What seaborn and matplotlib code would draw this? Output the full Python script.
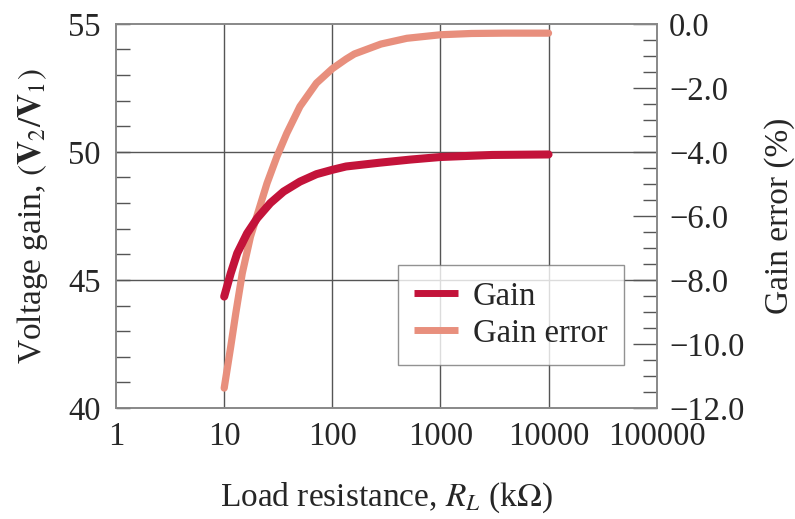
import matplotlib
matplotlib.use('Agg')
import matplotlib.pyplot as plt
import matplotlib.ticker as mticker
import numpy as np
import pandas as pd
import seaborn as sns

# Load resistance (kOhm) and values
rl_gain = [10, 11.5, 13.2, 16.3, 20.2, 26.7, 35.4, 50.2, 71.4, 100, 134, 277, 527,
           1000, 3000, 10000]
gain = [44.35, 45.26, 46.04, 46.82, 47.41, 48.0, 48.45, 48.84, 49.13, 49.3, 49.43,
        49.58, 49.7, 49.8, 49.88, 49.9]

rl_err = [10, 11.5, 12.8, 14.7, 17.5, 20.9, 24.9, 30.7, 37.9, 50.2, 71.4, 100, 134,
          160, 282, 490, 1000, 1940, 3900, 10000]
gain_err = [-11.38, -10.08, -9.04, -7.79, -6.65, -5.81, -4.98, -4.15, -3.42, -2.58,
            -1.85, -1.4, -1.1, -0.94, -0.63, -0.45, -0.34, -0.3, -0.29, -0.29]

x_ticks = [1, 10, 100, 1000, 10000, 100000]
left_ticks = [40, 45, 50, 55]
right_ticks = [0, -2, -4, -6, -8, -10, -12]

sns.set_style('white')
plt.rcParams['font.family'] = ['Liberation Serif', 'DejaVu Serif']
plt.rcParams['mathtext.fontset'] = 'stix'

GAIN_COL = '#C3133A'
ERR_COL = '#E88F7D'
GRID_COL = '#555555'
FS = 23.5
LFS = 24

df_gain = pd.DataFrame({'RL': rl_gain, 'val': gain})
df_err = pd.DataFrame({'RL': rl_err, 'val': gain_err})

fig = plt.figure(figsize=(7.95, 5.19), dpi=100)
ax1 = fig.add_axes([0.146, 0.214, 0.68, 0.740])
ax2 = ax1.twinx()
ax1.set_zorder(ax2.get_zorder() + 1)
ax1.patch.set_visible(False)
ax2.patch.set_facecolor('white')

# grid lines (drawn under the curves, on the back axes)
ax2.set_xscale('log')
ax2.set_xlim(1, 100000)
ax2.set_ylim(-12, 0)
for xv in x_ticks[1:-1]:
    ax2.axvline(xv, color=GRID_COL, lw=1.0, zorder=1)
for yv in [-4, -8]:
    ax2.axhline(yv, color=GRID_COL, lw=1.0, zorder=1)

sns.lineplot(data=df_err, x='RL', y='val', ax=ax2, color=ERR_COL, lw=5.2,
             solid_capstyle='round', solid_joinstyle='round', zorder=3,
             label='Gain error', legend=False)
sns.lineplot(data=df_gain, x='RL', y='val', ax=ax1, color=GAIN_COL, lw=5.8,
             solid_capstyle='round', solid_joinstyle='round', zorder=3,
             label='Gain', legend=False)

ax1.set_xscale('log')
ax1.set_xlim(1, 100000)
ax1.set_ylim(40, 55)

# x axis ticks
ax1.xaxis.set_major_locator(mticker.FixedLocator(x_ticks))
ax1.xaxis.set_major_formatter(mticker.FixedFormatter([str(v) for v in x_ticks]))
ax1.xaxis.set_minor_locator(mticker.LogLocator(base=10, subs=np.arange(2, 10), numticks=20))
ax1.xaxis.set_minor_formatter(mticker.NullFormatter())
ax1.tick_params(axis='x', which='major', direction='in', length=0, pad=10, labelsize=FS)
ax1.tick_params(axis='x', which='minor', direction='in', length=8, width=1, color='#555555')

# left y axis
ax1.set_yticks(left_ticks)
ax1.set_yticklabels([str(v) for v in left_ticks])
ax1.yaxis.set_minor_locator(mticker.MultipleLocator(1))
ax1.tick_params(axis='y', which='major', direction='in', length=10, width=1, pad=11,
                labelsize=FS, color='#555555', left=True, right=False)
ax1.tick_params(axis='y', which='minor', direction='in', length=10, width=1,
                color='#555555', left=True, right=False)

# right y axis
ax2.set_yticks(right_ticks)
ax2.set_yticklabels([('\u2212' if v < 0 else '') + '%.1f' % abs(v) for v in right_ticks])
ax2.yaxis.set_minor_locator(mticker.MultipleLocator(0.5))
ax2.tick_params(axis='y', which='major', direction='in', length=17, width=1, pad=9,
                labelsize=FS, color='#555555', left=False, right=True)
ax2.tick_params(axis='y', which='minor', direction='in', length=10, width=1,
                color='#555555', left=False, right=True)
ax2.tick_params(axis='x', which='both', bottom=False, top=False, labelbottom=False)
ax2.set_xlabel('')

for ax in (ax1, ax2):
    for s in ax.spines.values():
        s.set_color('#888888')
        s.set_linewidth(1.2)

ax1.set_xlabel(r'Load resistance, $R_L$ (k$\Omega$)', fontsize=LFS, labelpad=20)
ax1.set_ylabel(r'Voltage gain, $(\mathbf{V}_2/\mathbf{V}_1)$', fontsize=LFS, labelpad=13)
ax2.set_ylabel('Gain error (%)', fontsize=LFS, labelpad=14)

h1, l1 = ax1.get_legend_handles_labels()
h2, l2 = ax2.get_legend_handles_labels()
leg = ax1.legend(h1 + h2, l1 + l2, loc='upper left', bbox_to_anchor=(0.521, 0.372),
                 fontsize=FS, frameon=True, fancybox=False, edgecolor='#777777',
                 handlelength=1.35, borderpad=0.5, labelspacing=0.2, handletextpad=0.45,
                 borderaxespad=0)
leg.get_frame().set_linewidth(1.0)
for ln in leg.get_lines():
    ln.set_linewidth(5)
    ln.set_solid_capstyle('butt')

fig.savefig('out.png', dpi=100)
